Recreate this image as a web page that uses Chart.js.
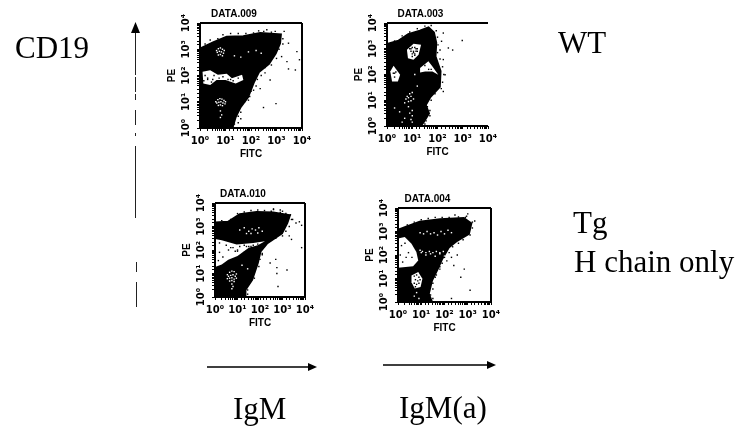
<!DOCTYPE html>
<html>
<head>
<meta charset="utf-8">
<script src="https://cdn.jsdelivr.net/npm/chart.js@4"></script>
<style>
  html, body { margin: 0; background: #fff; }
  body { position: relative; width: 738px; height: 426px; overflow: hidden; }
  canvas { position: absolute; filter: blur(0.35px); }
  svg { position: absolute; left: 0; top: 0; filter: blur(0.3px); }
  svg text { font-family: "Liberation Serif", serif; font-size: 31px; fill: #000; }
</style>
</head>
<body>
<svg width="738" height="426">
  <text x="15" y="58">CD19</text>
  <text x="558" y="53">WT</text>
  <text x="573" y="233">Tg</text>
  <text x="574" y="272">H chain only</text>
  <text x="233" y="419">IgM</text>
  <text x="399" y="418">IgM(a)</text>
  <g stroke="#222" stroke-width="1" fill="none">
    <path d="M135.5 32V75M135.5 77V92M135.5 94V100M135.5 110V125M135.5 133V136M135.5 146V218M136.5 262V272M136.5 282V307" />
  </g>
  <path d="M135.5 22L131 33H140Z" fill="#000"/>
  <g stroke="#000" stroke-width="1.5">
    <path d="M207 367H310M383 365H490" />
  </g>
  <path d="M317 367L308 363V371Z M496 365L487 361V369Z" fill="#000"/>
</svg>

<script>
// tick labels, shared by every panel
const logTickLabels = ["10\u2070", "10\u00b9", "10\u00b2", "10\u00b3", "10\u2074"];

// values below are log10 decades (0..4 on each axis)
// DATA.009
const d009DenseX = [0, 0, 0.52, 1.05, 1.7, 2.36, 3.15, 3.12, 2.95, 2.69, 2.3, 2.1, 1.87, 1.57, 1.38, 1.25];
const d009DenseY = [0, 3.0, 3.24, 3.46, 3.48, 3.6, 3.55, 3.23, 2.85, 2.46, 2.15, 1.76, 1.19, 0.8, 0.43, 0];
const d009HoleX = [0.1, 0.4, 0.7, 1.05, 1.25, 1.65, 1.7, 1.4, 1.0, 0.65, 0.4, 0.13];
const d009HoleY = [2.14, 2.2, 2.03, 2.07, 1.9, 2.03, 1.83, 1.7, 1.83, 1.83, 1.64, 1.7];
const d009WhiteX = [0.65, 0.72, 0.8, 0.88, 0.95, 0.68, 0.76, 0.84, 0.92, 0.72, 0.8, 0.88, 0.62, 0.7, 0.78, 0.86, 0.94, 1.0, 0.66, 0.74, 0.82, 0.9, 0.98, 0.72, 0.8, 0.88, 0.8, 0.85, 0.8, 1.35, 1.9, 2.2, 1.6, 2.4];
const d009WhiteY = [2.95, 3.02, 3.05, 3.0, 2.95, 2.88, 2.92, 2.9, 2.85, 2.78, 2.8, 2.75, 1.0, 1.08, 1.12, 1.1, 1.05, 1.0, 0.95, 0.98, 1.0, 0.95, 0.92, 0.86, 0.88, 0.85, 0.65, 0.5, 0.4, 2.75, 2.9, 2.95, 2.7, 2.85];
const d009BlackX = [3.47, 3.8, 3.2, 3.41, 3.9, 3.74, 3.47, 2.75, 2.49, 2.98, 2.36, 2.1, 1.9, 2.62, 2.95, 2.3, 3.3, 2.55, 0.3, 0.5, 0.9, 1.2, 1.5, 0.2, 0.4, 0.7, 0.9, 1.2, 1.5, 1.8, 2.1, 2.5, 2.8, 3.25, 3.25, 3.1, 3.0, 2.8, 2.55, 2.4, 2.25, 2.2, 2.0, 1.95, 1.75, 1.6, 1.5, 1.6, 1.35, 1.5, 0.2, 0.3, 0.55, 0.75, 1.1, 1.3, 0.45, 0.15];
const d009BlackY = [3.23, 2.91, 2.72, 2.53, 2.6, 2.21, 2.25, 1.83, 0.78, 0.93, 1.5, 1.44, 1.06, 3.74, 3.68, 3.7, 3.68, 2.1, 1.9, 1.85, 1.95, 1.85, 1.9, 3.2, 3.35, 3.4, 3.55, 3.6, 3.6, 3.6, 3.62, 3.68, 3.65, 3.4, 3.2, 3.0, 2.65, 2.4, 2.3, 2.0, 1.85, 1.6, 1.4, 1.2, 1.0, 0.6, 0.45, 0.35, 0.15, 0.2, 2.0, 1.85, 2.0, 1.9, 1.85, 1.8, 1.75, 1.8];

// DATA.003
const d003DenseX = [0, 0, 0.46, 0.85, 1.31, 1.64, 1.84, 1.93, 1.9, 2.1, 2.07, 1.7, 1.51, 1.64, 1.44, 1.31];
const d003DenseY = [0, 3.16, 3.29, 3.55, 3.68, 3.81, 3.62, 3.23, 2.7, 2.13, 1.53, 1.14, 0.82, 0.49, 0.17, 0];
const d003HoleAX = [0.79, 1.05, 1.35, 1.25, 1.05, 0.83];
const d003HoleAY = [2.96, 3.19, 3.16, 2.77, 2.57, 2.63];
const d003HoleBX = [0.13, 0.26, 0.52, 0.43, 0.2];
const d003HoleBY = [2.12, 2.34, 1.99, 1.73, 1.73];
const d003HoleCX = [1.31, 1.64, 1.8, 2.03, 1.8, 1.51, 1.31];
const d003HoleCY = [2.25, 2.51, 2.31, 1.99, 2.12, 2.12, 2.08];
const d003WhiteX = [0.8, 0.9, 1.0, 0.75, 0.85, 0.95, 1.05, 0.85, 0.95, 0.7, 0.85, 1.0, 0.9, 1.0, 0.95, 1.0, 0.3, 0.5, 0.7, 0.6, 1.2, 1.1];
const d003WhiteY = [1.15, 1.25, 1.3, 1.05, 1.1, 1.15, 1.05, 0.95, 0.98, 0.9, 0.75, 0.6, 0.5, 0.4, 0.25, 0.15, 0.7, 0.55, 0.3, 0.15, 1.55, 2.0];
const d003BlackX = [2.23, 2.16, 2.43, 2.6, 2.98, 2.1, 2.0, 2.23, 2.3, 2.23, 2.0, 0.95, 1.05, 1.15, 1.0, 1.2, 1.1, 0.3, 1.5, 1.65, 0.3, 0.6, 0.9, 1.2, 1.5, 1.75, 1.95, 2.0, 2.02, 2.0, 2.1, 2.2, 2.25, 2.2, 2.15, 1.9, 1.75, 1.6, 1.7, 1.7, 1.55, 1.5, 0.9, 1.0, 1.1, 1.2, 0.95, 1.05, 1.15, 1.0, 1.1, 0.25, 0.3, 0.35, 1.75];
const d003BlackY = [3.61, 3.29, 3.03, 2.95, 3.32, 2.95, 2.33, 2.58, 1.99, 1.34, 1.47, 3.0, 2.85, 3.0, 2.7, 2.9, 2.75, 2.05, 2.35, 2.2, 3.3, 3.5, 3.65, 3.78, 3.88, 3.9, 3.7, 3.45, 3.15, 2.85, 2.6, 2.3, 2.0, 1.7, 1.45, 1.25, 1.0, 0.75, 0.6, 0.4, 0.2, 0.08, 3.0, 3.05, 3.05, 3.0, 2.9, 2.9, 2.9, 2.8, 2.8, 2.05, 1.9, 2.1, 2.2];

// DATA.010
const d010DenseX = [0, 0, 0.59, 1.11, 1.85, 2.59, 3.3, 3.19, 2.96, 2.3, 2.0, 1.88, 1.63, 1.33, 1.33];
const d010DenseY = [0, 3.15, 3.18, 3.5, 3.6, 3.57, 3.46, 3.15, 2.72, 2.3, 1.94, 1.45, 0.74, 0.31, 0];
const d010HoleX = [0, 0.3, 0.96, 1.7, 2.22, 1.9, 1.5, 1.0, 0.59, 0.3, 0];
const d010HoleY = [2.47, 2.41, 2.23, 2.3, 2.37, 2.2, 2.1, 1.75, 1.59, 1.38, 1.28];
const d010WhiteX = [0.55, 0.65, 0.75, 0.85, 0.95, 0.6, 0.7, 0.8, 0.9, 0.55, 0.65, 0.75, 0.85, 0.95, 0.65, 0.75, 0.85, 0.75, 0.8, 0.75, 1.1, 1.3, 1.5, 1.65, 1.8, 1.95, 2.1, 1.4, 1.6, 1.9, 1.45, 1.2];
const d010WhiteY = [0.95, 1.05, 1.1, 1.08, 0.98, 0.88, 0.92, 0.95, 0.88, 0.78, 0.8, 0.82, 0.76, 0.8, 0.68, 0.7, 0.66, 0.55, 0.45, 0.35, 2.85, 2.95, 2.8, 2.9, 2.85, 2.95, 2.8, 2.7, 2.7, 2.72, 1.2, 1.35];
const d010BlackX = [2.6, 2.9, 3.45, 3.6, 3.75, 3.85, 3.3, 3.4, 3.85, 2.7, 2.45, 2.75, 3.2, 2.75, 2.8, 2.1, 1.4, 0.7, 1.0, 1.3, 1.6, 2.6, 3.0, 0.3, 0.7, 1.0, 1.3, 1.6, 1.9, 2.2, 2.5, 2.9, 3.15, 3.35, 3.4, 3.3, 3.15, 3.0, 2.7, 2.45, 2.2, 2.1, 2.0, 1.95, 1.75, 1.75, 1.5, 1.45, 1.45, 0.2, 0.5, 0.8, 1.1, 1.3, 1.5, 0.6, 0.9, 0.35, 0.2, 0.15, 1.7, 1.9, 1.0];
const d010BlackY = [3.75, 3.7, 3.3, 3.15, 3.2, 3.05, 2.6, 2.45, 2.1, 1.6, 1.45, 1.25, 1.15, 1.0, 0.45, 1.8, 2.15, 2.1, 1.95, 1.9, 2.15, 3.72, 3.65, 3.25, 3.3, 3.55, 3.62, 3.68, 3.7, 3.68, 3.65, 3.6, 3.55, 3.5, 3.3, 3.0, 2.8, 2.6, 2.5, 2.4, 2.15, 1.85, 1.6, 1.3, 1.05, 0.8, 0.55, 0.3, 0.12, 2.3, 2.2, 2.1, 2.15, 2.2, 2.15, 2.0, 1.95, 1.7, 1.9, 1.55, 2.2, 2.25, 2.0];

// DATA.004
const d004DenseX = [0, 0, 0.36, 0.94, 1.81, 2.82, 3.13, 3.03, 2.53, 2.17, 1.88, 1.69, 1.44, 1.3, 1.44];
const d004DenseY = [0, 3.05, 3.19, 3.4, 3.5, 3.55, 3.33, 2.91, 2.62, 2.34, 1.84, 1.42, 0.92, 0.35, 0];
const d004HoleAX = [0, 0.29, 0.58, 0.79, 0.87, 0.65, 0];
const d004HoleAY = [2.7, 2.77, 2.48, 2.13, 1.77, 1.52, 1.46];
const d004HoleBX = [0.58, 0.87, 1.05, 0.97, 0.72, 0.58];
const d004HoleBY = [1.13, 1.28, 0.99, 0.64, 0.57, 0.84];
const d004WhiteX = [0.95, 1.1, 1.25, 1.4, 1.55, 1.7, 1.85, 2.0, 2.15, 2.3, 1.0, 1.2, 1.4, 1.6, 1.8, 2.0, 2.2, 0.95, 1.05, 1.2, 1.35, 1.5, 1.65, 1.8, 1.95, 0.8, 0.7, 0.9];
const d004WhiteY = [2.95, 2.9, 3.0, 2.9, 2.95, 2.85, 3.0, 2.9, 3.05, 2.95, 2.1, 2.0, 2.05, 1.95, 2.05, 1.95, 2.05, 2.2, 2.15, 2.1, 2.15, 2.1, 2.15, 2.1, 2.15, 0.4, 0.25, 0.15];
const d004BlackX = [0.7, 0.8, 0.9, 0.75, 0.85, 0.95, 0.7, 0.8, 0.9, 0.75, 3.0, 3.3, 2.95, 2.45, 2.3, 2.4, 2.7, 2.85, 3.1, 2.3, 1.6, 1.6, 1.8, 2.1, 2.55, 0.1, 0.4, 0.7, 1.0, 1.3, 1.6, 1.9, 2.2, 2.6, 2.9, 3.2, 3.2, 3.1, 2.8, 2.6, 2.35, 2.2, 2.0, 1.9, 1.8, 1.65, 1.5, 1.5, 1.4, 1.5, 0.15, 0.3, 0.1, 0.45, 0.6, 0.2, 0.35];
const d004BlackY = [1.1, 1.15, 1.05, 0.95, 0.9, 0.95, 0.8, 0.75, 0.8, 0.65, 3.75, 3.45, 3.65, 3.7, 1.9, 1.55, 1.05, 1.4, 0.5, 0.15, 1.2, 1.05, 1.5, 1.75, 2.0, 3.1, 3.28, 3.4, 3.5, 3.55, 3.6, 3.6, 3.6, 3.62, 3.6, 3.4, 3.15, 2.85, 2.65, 2.5, 2.35, 2.1, 1.9, 1.65, 1.4, 1.15, 0.8, 0.55, 0.3, 0.15, 2.4, 2.5, 2.0, 2.1, 1.9, 1.7, 1.9];

const panels = [
  { id: "p009", title: "DATA.009", titleCx: 239, left: 200, right: 302, top: 23, bottom: 128, rightEdge: true,
    dense: [d009DenseX, d009DenseY], holes: [[d009HoleX, d009HoleY]], white: [d009WhiteX, d009WhiteY], black: [d009BlackX, d009BlackY] },
  { id: "p003", title: "DATA.003", titleCx: 426, left: 387, right: 488, top: 23, bottom: 126, rightEdge: false,
    dense: [d003DenseX, d003DenseY], holes: [[d003HoleAX, d003HoleAY], [d003HoleBX, d003HoleBY], [d003HoleCX, d003HoleCY]], white: [d003WhiteX, d003WhiteY], black: [d003BlackX, d003BlackY] },
  { id: "p010", title: "DATA.010", titleCx: 249, left: 215, right: 305, top: 203, bottom: 297, rightEdge: true,
    dense: [d010DenseX, d010DenseY], holes: [[d010HoleX, d010HoleY]], white: [d010WhiteX, d010WhiteY], black: [d010BlackX, d010BlackY] },
  { id: "p004", title: "DATA.004", titleCx: 433, left: 398, right: 491, top: 208, bottom: 302, rightEdge: true,
    dense: [d004DenseX, d004DenseY], holes: [[d004HoleAX, d004HoleAY], [d004HoleBX, d004HoleBY]], white: [d004WhiteX, d004WhiteY], black: [d004BlackX, d004BlackY] },
];

const TICK_FONT = { family: "DejaVu Sans", size: 10, weight: "bold" };
const LABEL_FONT = { family: "Liberation Sans", size: 10, weight: "bold" };
const CANVAS_W = 190, CANVAS_H = 180, Y_AXIS_W = 34, X_AXIS_H = 32, TITLE_H = 24;

function toPoints(xs, ys) {
  return xs.map((x, i) => ({ x: Math.pow(10, x), y: Math.pow(10, ys[i]) }));
}

function shape(pair, color, order, lineWidth) {
  return { data: toPoints(pair[0], pair[1]), showLine: true, fill: "shape", pointRadius: 0,
    borderColor: color, backgroundColor: color, borderWidth: lineWidth, tension: 0, order };
}

function dots(pair, color, order) {
  return { data: toPoints(pair[0], pair[1]), showLine: false, pointStyle: "rect", pointRadius: 1,
    borderWidth: 0, backgroundColor: color, order };
}

function logAxis(extra) {
  return Object.assign({
    type: "logarithmic", min: 1, max: 10000,
    grid: { display: true, drawOnChartArea: false, drawTicks: true, tickLength: 3, color: "#000" },
    border: { display: false },
  }, extra);
}

function tickText(v) {
  const d = Math.log10(v);
  return Number.isInteger(Math.round(d * 1e6) / 1e6) ? logTickLabels[Math.round(d)] : "";
}

// frame round the plot, drawn over the dots
const framePlugin = {
  id: "frame",
  afterDraw(chart, args, opts) {
    const { left, right, top, bottom } = chart.chartArea;
    const c = chart.ctx;
    c.save();
    c.strokeStyle = "#000";
    c.lineWidth = 2;
    c.beginPath();
    c.moveTo(left, top); c.lineTo(left, bottom); c.lineTo(right, bottom);
    c.moveTo(left, top); c.lineTo(right, top);
    if (opts.rightEdge) { c.moveTo(right, top); c.lineTo(right, bottom); }
    c.stroke();
    c.restore();
  }
};

panels.forEach(p => {
  const canvasLeft = p.titleCx - CANVAS_W / 2;
  const canvasTop = p.top - TITLE_H;
  const cv = document.createElement("canvas");
  cv.id = p.id;
  cv.style.left = canvasLeft + "px";
  cv.style.top = canvasTop + "px";
  cv.width = CANVAS_W;
  cv.height = CANVAS_H;
  document.body.appendChild(cv);

  const datasets = [shape(p.dense, "#000", 4, 3)];
  p.holes.forEach(h => datasets.push(shape(h, "#fff", 3, 0)));
  datasets.push(dots(p.white, "#fff", 2));
  datasets.push(dots(p.black, "#000", 1));

  new Chart(cv, {
    type: "scatter",
    data: { datasets },
    plugins: [framePlugin],
    options: {
      responsive: false, animation: false,
      layout: {
        padding: {
          left: p.left - canvasLeft - Y_AXIS_W,
          right: canvasLeft + CANVAS_W - p.right,
          top: 0,
          bottom: CANVAS_H - TITLE_H - (p.bottom - p.top) - X_AXIS_H,
        }
      },
      plugins: {
        legend: { display: false },
        tooltip: { enabled: false },
        title: { display: true, text: p.title, color: "#000", font: LABEL_FONT, padding: { top: 9, bottom: 3 } },
        frame: { rightEdge: p.rightEdge },
      },
      scales: {
        x: logAxis({
          afterFit: s => { s.height = X_AXIS_H; },
          title: { display: true, text: "FITC", color: "#000", font: LABEL_FONT, padding: 0 },
          ticks: { color: "#000", font: TICK_FONT, autoSkip: false, maxRotation: 0, minRotation: 0, padding: 4, callback: tickText },
        }),
        y: logAxis({
          afterFit: s => { s.width = Y_AXIS_W; },
          title: { display: true, text: "PE", color: "#000", font: LABEL_FONT, padding: 0 },
          ticks: { color: "#000", font: TICK_FONT, autoSkip: false, maxRotation: 90, minRotation: 90, padding: 1, crossAlign: "center", callback: tickText },
        }),
      }
    }
  });
});
</script>
</body>
</html>
